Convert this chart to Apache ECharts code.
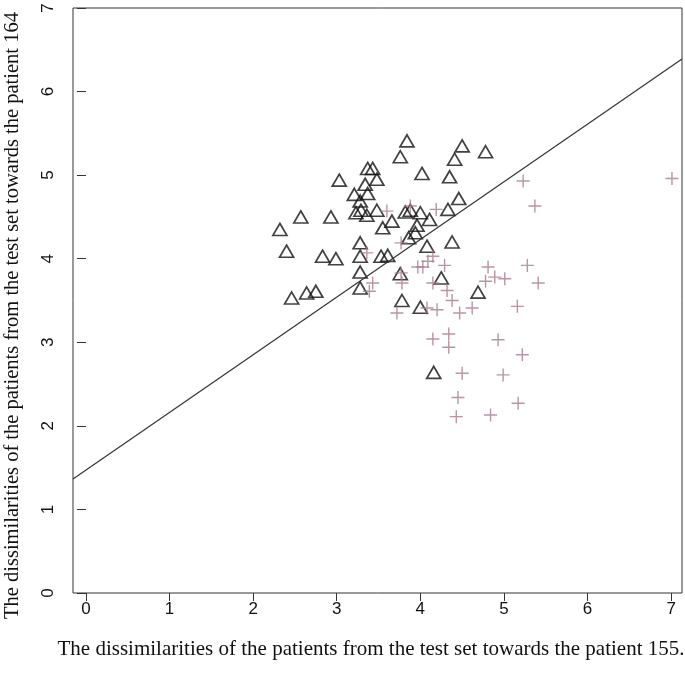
<!DOCTYPE html>
<html>
<head>
<meta charset="utf-8">
<script src="https://cdn.jsdelivr.net/npm/echarts@6/dist/echarts.min.js"></script>
<style>html,body{margin:0;padding:0;background:#fff}#c{width:685px;height:673px}</style>
</head>
<body>
<div id="c"></div>
<script>
const xTicks = [0, 1, 2, 3, 4, 5, 6, 7];
const yTicks = [0, 1, 2, 3, 4, 5, 6, 7];
const triX = [3.84,3.76,4.50,4.78,4.41,4.02,4.35,3.37,3.43,3.48,3.03,3.34,3.37,3.21,3.28,3.29,3.23,3.36,3.48,2.57,2.93,2.32,3.66,3.55,3.82,3.88,4.00,3.96,4.11,4.33,4.46,3.94,3.86,4.08,4.38,3.28,2.40,2.83,2.99,3.28,3.53,3.61,3.28,3.76,4.25,3.28,2.46,2.64,2.75,3.78,4.00,4.69,4.16];
const triY = [5.41,5.22,5.35,5.28,5.19,5.02,4.98,5.08,5.08,4.95,4.94,4.89,4.78,4.77,4.69,4.58,4.55,4.52,4.58,4.50,4.50,4.35,4.45,4.37,4.56,4.58,4.55,4.40,4.47,4.59,4.72,4.31,4.25,4.15,4.20,4.19,4.09,4.03,4.00,4.03,4.03,4.04,3.84,3.82,3.77,3.65,3.53,3.59,3.61,3.50,3.42,3.60,2.64];
const crossX = [7.01,5.23,5.37,3.88,3.60,4.19,3.77,3.36,4.15,4.09,4.03,3.97,4.29,4.81,5.28,4.89,5.01,4.78,5.41,3.77,3.78,4.15,3.43,3.39,4.32,4.38,4.47,4.62,4.20,4.08,3.72,5.16,4.15,4.34,4.34,4.93,5.22,4.50,4.99,4.45,5.17,4.43,4.84];
const crossY = [4.96,4.93,4.63,4.63,4.57,4.59,4.19,4.07,4.03,3.97,3.90,3.90,3.92,3.90,3.92,3.78,3.76,3.73,3.71,3.83,3.71,3.71,3.71,3.61,3.62,3.50,3.35,3.41,3.39,3.41,3.35,3.43,3.04,3.10,2.94,3.03,2.85,2.63,2.61,2.34,2.27,2.11,2.13];
const lineX = [-0.155, 7.13];
const lineY = [1.364, 6.39];
const xTitle = 'The dissimilarities of the patients from the test set towards the patient 155.';
const yTitle = 'The dissimilarities of the patients from the test set towards the patient 164';

const chart = echarts.init(document.getElementById('c'), null, {renderer: 'canvas'});
const zip = (a, b) => a.map((v, i) => [v, b[i]]);
chart.setOption({
  animation: false,
  grid: {left: 73, right: 3, top: 8, bottom: 80, show: true, borderColor: '#333', borderWidth: 1, backgroundColor: 'transparent'},
  xAxis: {
    type: 'value', min: -0.155, max: 7.13,
    splitLine: {show: false},
    axisLine: {show: false},
    axisTick: {show: true, length: 8, lineStyle: {color: '#333'}, customValues: xTicks},
    axisLabel: {show: true, customValues: xTicks, margin: 8, color: '#111', fontFamily: 'Liberation Sans', fontSize: 17, formatter: v => String(v)}
  },
  yAxis: {
    type: 'value', min: 0, max: 7,
    splitLine: {show: false},
    axisLine: {show: false},
    axisTick: {show: true, length: 9, lineStyle: {color: '#333'}, customValues: yTicks},
    axisLabel: {show: true, customValues: yTicks, rotate: 90, margin: 16, color: '#111', fontFamily: 'Liberation Sans', fontSize: 17, formatter: v => String(v)}
  },
  graphic: [
    {type: 'text', x: 371, y: 639, style: {text: xTitle, font: '21px "Liberation Serif"', fill: '#111', align: 'center', verticalAlign: 'top'}},
    {type: 'text', x: 2, y: 619, rotation: Math.PI / 2, style: {text: yTitle, font: '20.5px "Liberation Serif"', fill: '#111', align: 'left', verticalAlign: 'top'}}
  ],
  series: [
    {
      type: 'line', data: zip(lineX, lineY), symbol: 'none', silent: true,
      lineStyle: {color: '#333', width: 1.2}
    },
    {
      type: 'scatter', data: zip(triX, triY), symbol: 'triangle', symbolSize: [14, 12],
      itemStyle: {color: 'rgba(255,255,255,0)', borderColor: '#111', borderWidth: 1.7}
    },
    {
      type: 'scatter', data: zip(crossX, crossY), symbol: 'path://M0,6L12,6M6,0L6,12', symbolSize: 13,
      itemStyle: {color: 'none', borderColor: '#a87a8c', borderWidth: 1.4}
    }
  ]
});
</script>
</body>
</html>
